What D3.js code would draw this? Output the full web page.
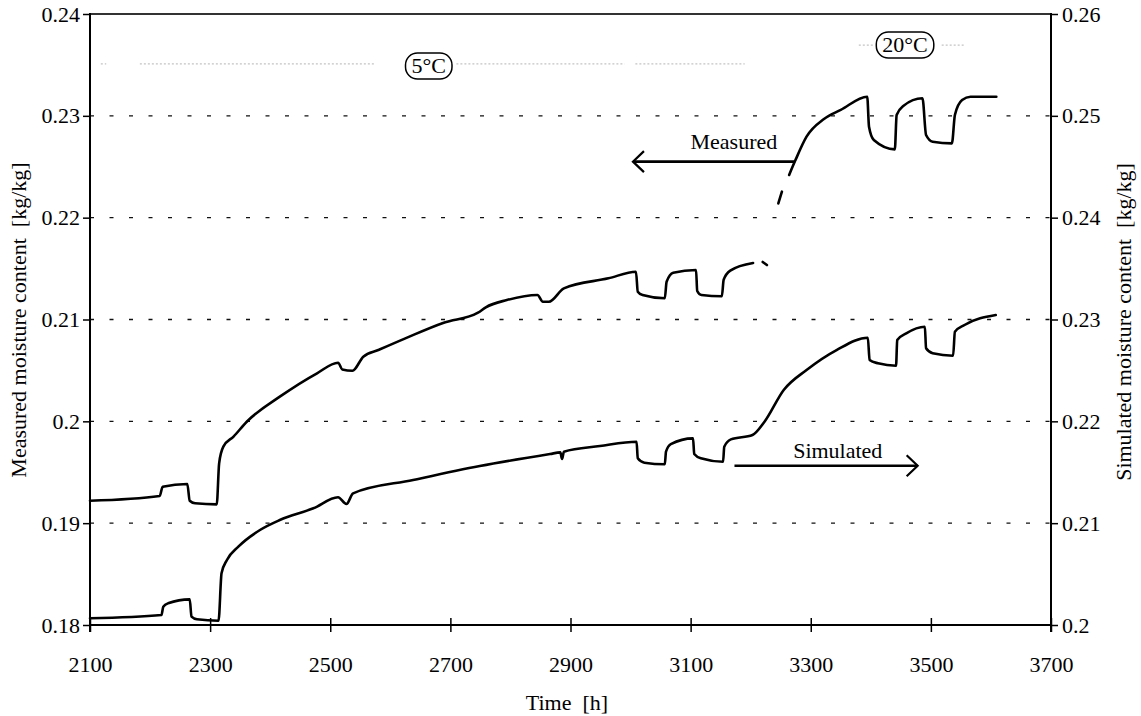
<!DOCTYPE html>
<html>
<head>
<meta charset="utf-8">
<script src="https://cdn.jsdelivr.net/npm/d3@7"></script>
<style>
  html, body { margin: 0; padding: 0; background: #fff; }
  svg { display: block; }
  text { font-family: "Liberation Serif", "Times New Roman", serif; fill: #000; }
</style>
</head>
<body>
<svg id="chart" width="1141" height="716"></svg>
<script>
// ---------- data ----------
const timeTicks = [2100, 2300, 2500, 2700, 2900, 3100, 3300, 3500, 3700];
const leftTicks = [0.18, 0.19, 0.20, 0.21, 0.22, 0.23, 0.24];
const leftTickLabels = ["0.18", "0.19", "0.2", "0.21", "0.22", "0.23", "0.24"];
const rightTicks = [0.20, 0.21, 0.22, 0.23, 0.24, 0.25, 0.26];
const rightTickLabels = ["0.2", "0.21", "0.22", "0.23", "0.24", "0.25", "0.26"];
const gridValues = [0.19, 0.20, 0.21, 0.22, 0.23];

// Measured moisture content (left axis), 5 °C period
const measured5T = [2100, 2216, 2221, 2262, 2266, 2275, 2311, 2315, 2322, 2339, 2361, 2416, 2478, 2513, 2520, 2537, 2555, 2580, 2625, 2689, 2746, 2759, 2794, 2845, 2854, 2864, 2889, 2963, 3009, 3012, 3020, 3057, 3060, 3071, 3109, 3111, 3118, 3152, 3155, 3166, 3204];
const measured5V = [0.1922, 0.19267, 0.19358, 0.19385, 0.1922, 0.19195, 0.19185, 0.19588, 0.19751, 0.1985, 0.19996, 0.20242, 0.20472, 0.20576, 0.2051, 0.20497, 0.20635, 0.207, 0.20815, 0.20969, 0.21067, 0.2112, 0.21191, 0.21241, 0.21175, 0.21175, 0.21306, 0.21404, 0.21469, 0.21273, 0.2124, 0.21208, 0.21371, 0.2146, 0.21486, 0.2128, 0.2124, 0.21228, 0.2139, 0.2148, 0.21555];
// short isolated fragment after the 5 °C period
const measuredFragT = [3220, 3227];
const measuredFragV = [0.21565, 0.21535];
// short dash at start of 20 °C period
const measuredDashT = [3246, 3252];
const measuredDashV = [0.2214, 0.22255];
// Measured, 20 °C period
const measured20T = [3264, 3274, 3293, 3322, 3350, 3394, 3397, 3405, 3440, 3443, 3454, 3486, 3492, 3503, 3535, 3540, 3552, 3566, 3609];
const measured20V = [0.22419, 0.22558, 0.22795, 0.22968, 0.23058, 0.23188, 0.22893, 0.22763, 0.22671, 0.23008, 0.23097, 0.23172, 0.22812, 0.22746, 0.2273, 0.23008, 0.23155, 0.23188, 0.23188];

// Simulated moisture content (right axis)
const simulatedT = [2100, 2219, 2222, 2230, 2266, 2269, 2278, 2314, 2319, 2328, 2347, 2383, 2416, 2472, 2513, 2527, 2538, 2638, 2749, 2866, 2883, 2886, 2889, 2949, 3010, 3012, 3023, 3057, 3059, 3067, 3104, 3106, 3117, 3154, 3156, 3167, 3203, 3223, 3255, 3293, 3343, 3395, 3398, 3412, 3442, 3444, 3459, 3490, 3492, 3503, 3537, 3540, 3556, 3608];
const simulatedV = [0.20066, 0.20098, 0.2018, 0.20213, 0.20252, 0.20082, 0.20056, 0.20042, 0.20508, 0.20638, 0.20769, 0.20933, 0.21031, 0.21146, 0.21254, 0.21188, 0.21293, 0.21424, 0.21561, 0.21679, 0.21695, 0.2163, 0.21702, 0.21757, 0.218, 0.21637, 0.21594, 0.21578, 0.21702, 0.21777, 0.21833, 0.21679, 0.21637, 0.21603, 0.21751, 0.21823, 0.21866, 0.21996, 0.22308, 0.22504, 0.227, 0.22821, 0.22602, 0.2257, 0.22546, 0.22799, 0.22864, 0.22929, 0.22717, 0.22668, 0.22644, 0.2288, 0.22946, 0.23044];

// annotations (time, value on the axis of the series they refer to)
const measuredArrow = { label: "Measured", from: 3274, to: 3004, value: 0.2255, textT: 3172, textV: 0.2267 };
const simulatedArrow = { label: "Simulated", from: 3173, to: 3478, value: 0.21564, textT: 3345, textV: 0.21643 };
const periodLabels = [
  { label: "5°C", t: 2664, v: 0.2349 },
  { label: "20°C", t: 3457, v: 0.23696 }
];
// faint scanned guide lines (left axis values)
const faintGuides = [
  { from: 2118, to: 2127, v: 0.2351 },
  { from: 2183, to: 2575, v: 0.2351 },
  { from: 2710, to: 2990, v: 0.2351 },
  { from: 3008, to: 3190, v: 0.2351 },
  { from: 3380, to: 3405, v: 0.23695 },
  { from: 3518, to: 3555, v: 0.23695 }
];

// ---------- layout ----------
const svg = d3.select("#chart");
const L = 90, R = 1051, T = 14, B = 625;
const x = d3.scaleLinear().domain([2100, 3700]).range([L, R]);
const yL = d3.scaleLinear().domain([0.18, 0.24]).range([B, T]);
const yR = d3.scaleLinear().domain([0.20, 0.26]).range([B, T]);

svg.append("rect").attr("width", 1141).attr("height", 716).attr("fill", "#fff");

// faint guides
svg.append("g").selectAll("line").data(faintGuides).join("line")
  .attr("x1", d => x(d.from)).attr("x2", d => x(d.to))
  .attr("y1", d => yL(d.v)).attr("y2", d => yL(d.v))
  .attr("stroke", "#c4c4c4").attr("stroke-width", 1.2).attr("stroke-dasharray", "2,2");

// gridlines
svg.append("g").selectAll("line").data(gridValues).join("line")
  .attr("x1", L).attr("x2", R)
  .attr("y1", d => yL(d)).attr("y2", d => yL(d))
  .attr("stroke", "#111").attr("stroke-width", 1.3).attr("stroke-dasharray", "4,15.5");

// frame top
svg.append("line").attr("x1", L).attr("x2", R).attr("y1", T).attr("y2", T)
  .attr("stroke", "#333").attr("stroke-width", 2);

// axes
const fontSize = 22;
const leftAxis = d3.axisLeft(yL).tickValues(leftTicks)
  .tickFormat((d, i) => leftTickLabels[i]).tickSize(7).tickSizeOuter(0).tickPadding(3);
const gL = svg.append("g").attr("transform", `translate(${L},0)`).call(leftAxis);

const rightAxis = d3.axisRight(yR).tickValues(rightTicks)
  .tickFormat((d, i) => rightTickLabels[i]).tickSize(7).tickSizeOuter(0).tickPadding(4);
const gR = svg.append("g").attr("transform", `translate(${R},0)`).call(rightAxis);

const bottomAxis = d3.axisBottom(x).tickValues(timeTicks)
  .tickFormat(d3.format("d")).tickSize(7).tickSizeOuter(0);
const gB = svg.append("g").attr("transform", `translate(0,${B})`).call(bottomAxis);
gB.selectAll(".tick line").attr("y1", -7).attr("y2", 7);
gB.selectAll(".tick text").attr("y", 47).attr("dy", null);

[gL, gR, gB].forEach(g => {
  g.selectAll(".domain").attr("stroke", "#000").attr("stroke-width", 2);
  g.selectAll(".tick line").attr("stroke", "#000").attr("stroke-width", 1.5);
  g.selectAll(".tick text").attr("font-size", fontSize)
    .attr("font-family", "Liberation Serif, Times New Roman, serif").attr("fill", "#000");
});
gL.select(".domain").attr("d", `M0,${T - 1}V${B + 7}`);
gR.select(".domain").attr("d", `M0,${T - 1}V${B + 7}`);
gB.select(".domain").attr("d", `M${L - 1},0H${R + 1}`);

// axis titles
svg.append("text").attr("transform", "translate(26,320) rotate(-90)")
  .attr("text-anchor", "middle").attr("font-size", fontSize)
  .text("Measured moisture content\u00a0\u00a0[kg/kg]");
svg.append("text").attr("transform", "translate(1131,322) rotate(-90)")
  .attr("text-anchor", "middle").attr("font-size", fontSize)
  .text("Simulated moisture content\u00a0\u00a0[kg/kg]");
svg.append("text").attr("x", 567).attr("y", 710)
  .attr("text-anchor", "middle").attr("font-size", fontSize)
  .text("Time\u00a0\u00a0[h]");

// series
function segment(ts, vs, yScale) {
  return ts.map((t, i) => [t, vs[i]]);
}
const lineL = d3.line().x(d => x(d[0])).y(d => yL(d[1])).curve(d3.curveMonotoneX);
const lineR = d3.line().x(d => x(d[0])).y(d => yR(d[1])).curve(d3.curveMonotoneX);
const curves = svg.append("g").attr("fill", "none").attr("stroke", "#000")
  .attr("stroke-width", 2.6).attr("stroke-linejoin", "round").attr("stroke-linecap", "round");

curves.append("path").attr("d", lineL(segment(measured5T, measured5V)));
curves.append("path").attr("d", lineL(segment(measuredFragT, measuredFragV)));
curves.append("path").attr("d", lineL(segment(measuredDashT, measuredDashV)));
curves.append("path").attr("d", lineL(segment(measured20T, measured20V)));
curves.append("path").attr("d", lineR(segment(simulatedT, simulatedV)));

// annotation arrows
function arrow(a, yScale) {
  const g = svg.append("g");
  const y = yScale(a.value);
  const x1 = x(a.from), x2 = x(a.to);
  const dir = x2 > x1 ? 1 : -1;
  g.append("line").attr("x1", x1).attr("x2", x2).attr("y1", y).attr("y2", y)
    .attr("stroke", "#000").attr("stroke-width", 2.6);
  g.append("path")
    .attr("d", `M${x2 - dir * 11},${y - 10.5}L${x2},${y}L${x2 - dir * 11},${y + 10.5}`)
    .attr("fill", "none").attr("stroke", "#000").attr("stroke-width", 2.2)
    .attr("stroke-linejoin", "miter");
  g.append("text").attr("x", x(a.textT)).attr("y", yScale(a.textV))
    .attr("text-anchor", "middle").attr("font-size", fontSize).text(a.label);
}
arrow(measuredArrow, yL);
arrow(simulatedArrow, yR);

// period labels in rounded boxes
periodLabels.forEach(p => {
  const cx = x(p.t), cy = yL(p.v);
  const g = svg.append("g");
  const txt = g.append("text").attr("x", cx).attr("y", cy + 7.5)
    .attr("text-anchor", "middle").attr("font-size", fontSize).text(p.label);
  const w = txt.node().getComputedTextLength() + 12;
  g.insert("rect", "text").attr("x", cx - w / 2).attr("y", cy - 13)
    .attr("width", w).attr("height", 26).attr("rx", 12).attr("ry", 12)
    .attr("fill", "#fff").attr("stroke", "#000").attr("stroke-width", 1.5);
});
</script>
</body>
</html>
